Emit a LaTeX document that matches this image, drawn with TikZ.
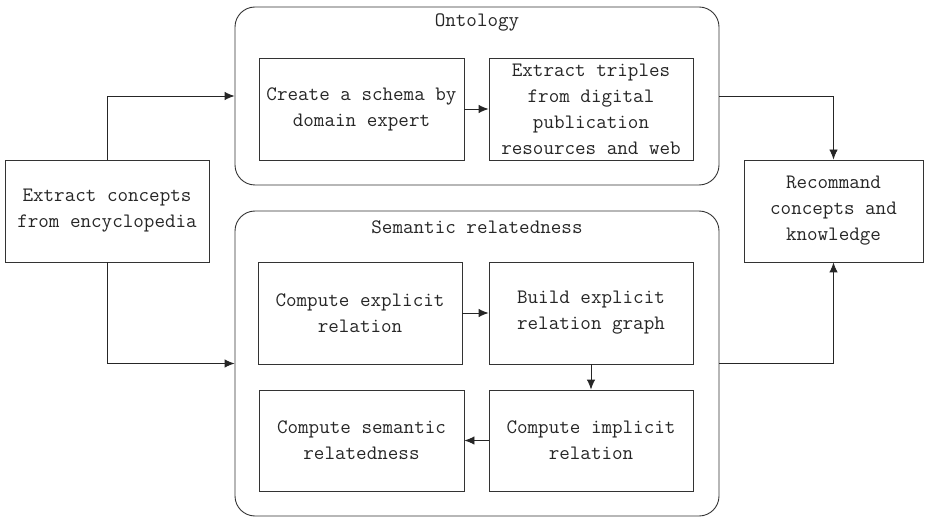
\documentclass[tikz,border=0pt]{standalone}
\usetikzlibrary{calc}
\usetikzlibrary{arrows.meta}

\begin{document}
\begin{tikzpicture}[
		x=1pt, y=-1pt,
		>={Latex[length=10pt,width=8.5pt]},
		line width=0.9pt,
		txt/.style={font=\ttfamily\fontsize{20.5}{26}\selectfont, align=center, text=black!85},
		box/.style={txt, draw=black!80, minimum width=204pt, minimum height=102pt, inner sep=0pt},
		group/.style={draw=black!80, rounded corners=20pt, minimum width=484pt, inner sep=0pt},
		link/.style={->, draw=black!85},
	]
	\useasboundingbox (0,0) rectangle (925,518);
	% containers
	\node[group, minimum height=178pt] (ontology) at (477,96) {};
	\node[group, minimum height=305pt] (relatedness) at (477,363.5) {};
	\node[txt] (ontologytitle) at (477,22) {Ontology};
	\node[txt] (relatednesstitle) at (477,227) {Semantic relatedness};
	% outer boxes
	\node[box] (concepts) at (107,211) {Extract concepts\\from encyclopedia};
	\node[box, minimum width=179pt] (recommend) at (833.5,211) {Recommand\\concepts and\\knowledge};
	% ontology part
	\node[box, minimum width=205pt] (schema) at (361.5,109) {Create a schema by\\domain expert};
	\node[box] (triples) at (591,109) {Extract triples\\from digital\\publication\\resources and web};
	% relatedness part
	\node[box] (explicit) at (360,313) {Compute explicit\\relation};
	\node[box] (graph) at (591,313) {Build explicit\\relation graph};
	\node[box, minimum width=205pt, minimum height=101pt] (semantic) at (361.5,440.5) {Compute semantic\\relatedness};
	\node[box, minimum height=101pt] (implicit) at (591,440.5) {Compute implicit\\relation};
	% connectors
	\draw[link] (concepts.north) |- (ontology.west);
	\draw[link] (concepts.south) |- (relatedness.west);
	\draw[link] (ontology.east) -| (recommend.north);
	\draw[link] (relatedness.east) -| (recommend.south);
	\draw[link] (schema) -- (triples);
	\draw[link] (explicit) -- (graph);
	\draw[link] (graph) -- (implicit);
	\draw[link] (implicit) -- (semantic);
\end{tikzpicture}
\end{document}
